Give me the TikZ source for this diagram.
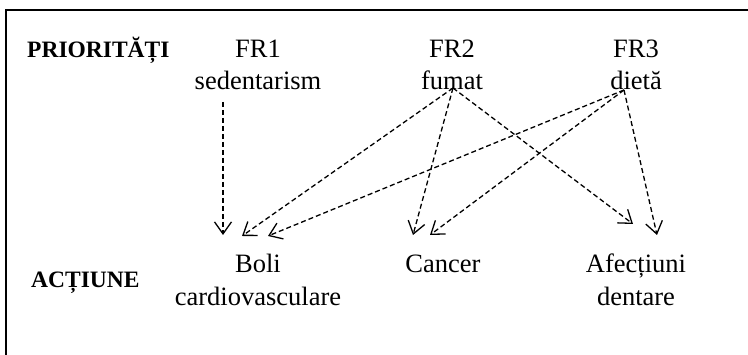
\documentclass[tikz,border=0pt]{standalone}
\usepackage{fontspec}
\setmainfont{Liberation Serif}
\usetikzlibrary{arrows.meta}
\begin{document}
\begin{tikzpicture}[x=1pt,y=-1pt,
  lbl/.style={font=\fontsize{26.5}{33}\selectfont, inner sep=0pt, anchor=base},
  hdr/.style={font=\fontsize{23.5}{28}\selectfont\bfseries, inner sep=0pt, anchor=base west},
  link/.style={dash pattern=on 5pt off 3pt, line width=1.3pt, -{Straight Barb[length=12pt,width=17pt,line width=1.3pt]}}]
\useasboundingbox (0,0) rectangle (748,355);
\begin{scope}
\clip (0,0) rectangle (748,355);
\draw[line width=2.8pt] (6,360) -- (6,10) -- (760,10);
\end{scope}
\node[hdr] (prio) at (27,58) {PRIORITĂȚI};
\node[hdr] (act) at (31,288) {ACȚIUNE};
\node[lbl] (fr1) at (258,58) {FR1};
\node[lbl] (fr1b) at (258,90) {sedentarism};
\node[lbl] (fr2) at (452,58) {FR2};
\node[lbl] (fr2b) at (452,90) {fumat};
\node[lbl] (fr3) at (636,58) {FR3};
\node[lbl] (fr3b) at (636,90) {dietă};
\node[lbl] (boli) at (258,273) {Boli};
\node[lbl] (bolib) at (258,306) {cardiovasculare};
\node[lbl] (canc) at (443,273) {Cancer};
\node[lbl] (afec) at (636,273) {Afecțiuni};
\node[lbl] (afecb) at (636,306) {dentare};
\coordinate (s1) at (223,102);
\coordinate (s2) at (453,88);
\coordinate (s3) at (624,90);
\coordinate (b1) at (223,235);
\coordinate (b2) at (242,236);
\coordinate (b3) at (268,236);
\coordinate (c2) at (413,235);
\coordinate (c3) at (430,235);
\coordinate (a2) at (633,224);
\coordinate (a3) at (657,235);
\draw[link] (s1) -- (b1);
\draw[link] (s2) -- (b2);
\draw[link] (s2) -- (c2);
\draw[link] (s2) -- (a2);
\draw[link] (s3) -- (b3);
\draw[link] (s3) -- (c3);
\draw[link] (s3) -- (a3);
\end{tikzpicture}
\end{document}
